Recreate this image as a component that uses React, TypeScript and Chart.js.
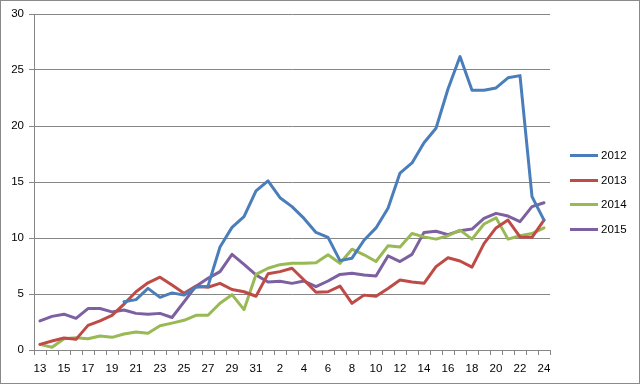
import React, { useEffect, useRef } from "react";
import { Chart, registerables } from "chart.js";

Chart.register(...registerables);

const categories = [
  "13", "14", "15", "16", "17", "18", "19", "20", "21", "22", "23", "24", "25", "26", "27", "28", "29", "30", "31",
  "1", "2", "3", "4", "5", "6", "7", "8", "9", "10", "11", "12", "13", "14", "15", "16", "17", "18", "19", "20", "21", "22", "23", "24",
];

const series2012 = [
  null, null, null, null, null, null, null,
  4.3, 4.5, 5.5, 4.7, 5.1, 4.9, 5.6, 5.7, 9.2, 10.95, 11.9, 14.2, 15.1,
  13.6, 12.8, 11.75, 10.5, 10.06, 7.98, 8.2, 9.8, 10.9, 12.65, 15.8, 16.7, 18.5, 19.8, 23.3, 26.2, 23.2, 23.2, 23.4, 24.3, 24.5, 13.7, 11.6,
];

const series2013 = [
  0.5, 0.8, 1.07, 0.95, 2.2, 2.6, 3.1, 4.1, 5.2, 6.0, 6.5, 5.8, 5.06, 5.7, 5.6, 5.95, 5.4, 5.2, 4.8,
  6.8, 7.0, 7.3, 6.25, 5.15, 5.2, 5.7, 4.17, 4.9, 4.8, 5.5, 6.25, 6.07, 5.95, 7.44, 8.24, 7.95, 7.4, 9.5, 10.9, 11.6, 10.1, 10.06, 11.6,
];

const series2014 = [
  0.5, 0.24, 1.0, 1.1, 1.0, 1.25, 1.13, 1.43, 1.6, 1.5, 2.17, 2.4, 2.65, 3.1, 3.1, 4.17, 4.94, 3.6, 6.75,
  7.3, 7.62, 7.74, 7.74, 7.8, 8.5, 7.74, 9.0, 8.5, 7.9, 9.3, 9.2, 10.4, 10.1, 9.9, 10.2, 10.7, 9.9, 11.25, 11.8, 9.9, 10.2, 10.4, 10.9,
];

const series2015 = [
  2.6, 3.0, 3.2, 2.83, 3.7, 3.7, 3.4, 3.57, 3.27, 3.2, 3.27, 2.9, 4.3, 5.7, 6.4, 7.0, 8.54, 7.65, 6.7,
  6.07, 6.13, 5.95, 6.16, 5.65, 6.16, 6.75, 6.85, 6.7, 6.6, 8.4, 7.9, 8.54, 10.5, 10.6, 10.3, 10.65, 10.8, 11.75, 12.2, 11.96, 11.46, 12.8, 13.15,
];

const seriesNames = ["2012", "2013", "2014", "2015"];
const seriesColors = ["#4A7EBB", "#BE4B48", "#98B954", "#7D60A0"];
const yTicks = [0, 5, 10, 15, 20, 25, 30];

const GRID = "#868686";
const FONT = "'Liberation Sans', Arial, sans-serif";

const legendPlugin = {
  id: "customLegend",
  afterDraw(chart: any) {
    const ctx = chart.ctx;
    const x0 = chart.chartArea.right + 20;
    const n = chart.data.datasets.length;
    const spacing = 24.5;
    const cy = chart.height / 2;
    ctx.save();
    chart.data.datasets.forEach((ds: any, i: number) => {
      const y = Math.round(cy + (i - (n - 1) / 2) * spacing - 0.5);
      ctx.strokeStyle = ds.borderColor;
      ctx.lineWidth = 3;
      ctx.lineCap = "butt";
      ctx.beginPath();
      ctx.moveTo(x0, y + 0.5);
      ctx.lineTo(x0 + 28, y + 0.5);
      ctx.stroke();
      ctx.fillStyle = "#000";
      ctx.font = `11.5px ${FONT}`;
      ctx.textBaseline = "middle";
      ctx.textAlign = "left";
      ctx.fillText(ds.label, x0 + 31, y + 1);
    });
    ctx.restore();
  },
};

const borderPlugin = {
  id: "outerBorder",
  afterDraw(chart: any) {
    const ctx = chart.ctx;
    ctx.save();
    ctx.strokeStyle = "#8a8a8a";
    ctx.lineWidth = 1;
    ctx.strokeRect(0.5, 0.5, chart.width - 2, chart.height - 2);
    ctx.restore();
  },
};

export default function App() {
  const canvasRef = useRef<HTMLCanvasElement | null>(null);

  useEffect(() => {
    document.body.style.margin = "0";
    const canvas = canvasRef.current;
    if (!canvas) return;
    const chart = new Chart(canvas, {
      type: "line",
      data: {
        labels: categories,
        datasets: [series2012, series2013, series2014, series2015].map((d, i) => ({
          label: seriesNames[i],
          data: d,
          borderColor: seriesColors[i],
          backgroundColor: seriesColors[i],
          borderWidth: 3,
          pointRadius: 0,
          pointHoverRadius: 0,
          tension: 0,
          fill: false,
          borderJoinStyle: "round" as const,
          borderCapStyle: "round" as const,
          spanGaps: false,
        })),
      },
      options: {
        responsive: false,
        animation: false,
        devicePixelRatio: 1,
        layout: { padding: { top: 14, right: 91, left: 0, bottom: 0 } },
        plugins: {
          legend: { display: false },
          tooltip: { enabled: false },
          title: { display: false },
        },
        scales: {
          x: {
            type: "category",
            offset: true,
            grid: {
              display: true,
              offset: true,
              drawOnChartArea: false,
              drawTicks: true,
              tickLength: 5,
              color: GRID,
              lineWidth: 1,
            },
            border: { display: true, color: GRID, width: 1 },
            ticks: {
              autoSkip: false,
              maxRotation: 0,
              minRotation: 0,
              padding: 7,
              color: "#000",
              font: { family: FONT, size: 11.5 },
              callback: (_v: any, index: number) => (index % 2 === 0 ? categories[index] : ""),
            },
            afterFit: (scale: any) => {
              scale.height = 35;
            },
          },
          y: {
            min: 0,
            max: 30,
            afterBuildTicks: (scale: any) => {
              scale.ticks = yTicks.map((v) => ({ value: v }));
            },
            grid: {
              display: true,
              drawOnChartArea: true,
              drawTicks: true,
              tickLength: 5,
              color: GRID,
              lineWidth: 1,
            },
            border: { display: true, color: GRID, width: 1 },
            ticks: {
              padding: 5,
              color: "#000",
              font: { family: FONT, size: 11.5 },
            },
            afterFit: (scale: any) => {
              scale.width = 34;
            },
          },
        },
      },
      plugins: [legendPlugin, borderPlugin],
    });
    return () => chart.destroy();
  }, []);

  return (
    <div style={{ width: 641, height: 385 }}>
      <canvas ref={canvasRef} width={641} height={385} style={{ display: "block" }} />
    </div>
  );
}
